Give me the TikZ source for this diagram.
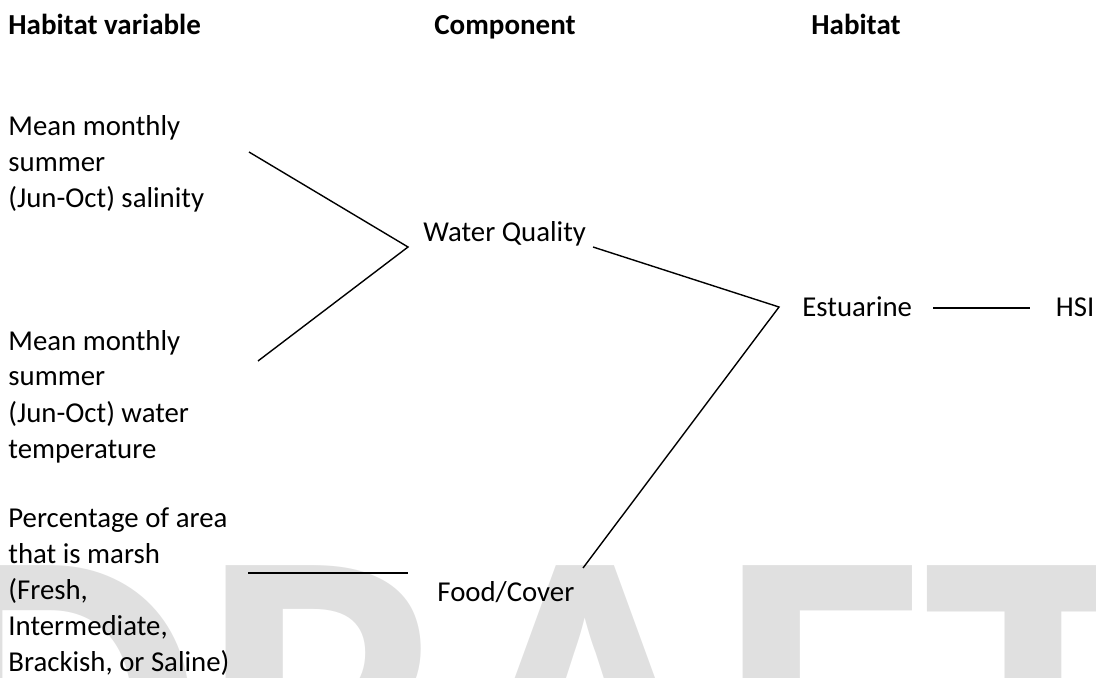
\documentclass[tikz,border=0pt]{standalone}
\usepackage{fontspec}
\setmainfont{Carlito}
\usetikzlibrary{positioning}

\begin{document}
\begin{tikzpicture}[
    x=0.5pt, y=-0.5pt,
    txt/.style={anchor=base west, inner sep=0pt, align=left, font=\fontsize{14.4}{18}\selectfont},
    head/.style={txt, font=\fontsize{14.5}{18}\selectfont\bfseries},
    link/.style={line width=0.7pt},
    watermark/.style={anchor=base, inner sep=0pt, text=black!12, font=\fontsize{222}{222}\selectfont\bfseries}
]
\useasboundingbox (0,0) rectangle (1096,678);

% Watermark behind everything
\begin{scope}
  \clip (0,0) rectangle (1096,678);
  \node[watermark] (draft) at (532,853) {DRAFT};
\end{scope}

% Column headings
\node[head] (hvar) at (8,35) {Habitat variable};
\node[head] (hcomp) at (434,35) {Component};
\node[head] (hhab) at (811,35) {Habitat};

% Habitat variables (anchored on last line)
\node[txt] (sal) at (8,208) {Mean monthly\\summer\\(Jun-Oct) salinity};
\node[txt] (temp) at (8,458) {Mean monthly\\summer\\(Jun-Oct) water\\temperature};
\node[txt] (marsh) at (8,671) {Percentage of area\\that is marsh\\(Fresh,\\Intermediate,\\Brackish, or Saline)};

% Components
\node[txt] (wq) at (423,242) {Water Quality};
\node[txt] (food) at (437,601) {Food/Cover};

% Habitat and index
\node[txt] (est) at (802,316) {Estuarine};
\node[txt, base right=143 of est] (hsi) {HSI};

% Junction points
\coordinate (salEnd) at (249,152);
\coordinate (tempEnd) at (258,361);
\coordinate (marshEnd) at (248,573);
\coordinate (wqIn) at (408,247);
\coordinate (wqOut) at (593,247);
\coordinate (foodIn) at (408,573);
\coordinate (foodOut) at (583,568);
\coordinate (estIn) at (779,307);
\coordinate (estOut) at (933,308);
\coordinate (hsiIn) at (1030,308);

% Connectors
\draw[link] (salEnd) -- (wqIn) -- (tempEnd);
\draw[link] (marshEnd) -- (foodIn);
\draw[link] (wqOut) -- (estIn) -- (foodOut);
\draw[link] (estOut) -- (hsiIn);

\end{tikzpicture}
\end{document}
